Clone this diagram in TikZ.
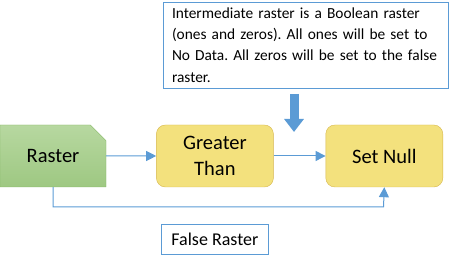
\documentclass[tikz,border=0pt]{standalone}
\usepackage{fontspec}
\setmainfont{Carlito}
\frenchspacing
\usetikzlibrary{arrows.meta,positioning,shapes.misc}
\definecolor{lineblue}{RGB}{91,155,213}
\definecolor{opfill}{RGB}{243,225,125}
\definecolor{opdraw}{RGB}{214,182,76}
\definecolor{rastertop}{RGB}{183,216,160}
\definecolor{rasterbot}{RGB}{158,200,130}
\definecolor{rasterdraw}{RGB}{128,180,96}
\tikzset{
  rasterbox/.style={chamfered rectangle, chamfered rectangle corners=north east, chamfered rectangle xsep=9pt, chamfered rectangle ysep=9pt, draw=rasterdraw, top color=rastertop, bottom color=rasterbot, minimum width=106pt, minimum height=62pt, inner sep=0pt, font=\fontsize{20.5}{26}\selectfont},
  opbox/.style={draw=opdraw, fill=opfill, rounded corners=9pt, align=center, minimum width=117pt, minimum height=62pt, inner sep=0pt, font=\fontsize{20.5}{26}\selectfont},
  notebox/.style={draw=lineblue, fill=white, align=left, text width=267pt, inner xsep=9pt, inner ysep=0pt, minimum height=86pt, font=\fontsize{15.4}{21.3}\selectfont},
  labelbox/.style={draw=lineblue, fill=white, minimum width=107pt, minimum height=30pt, inner sep=0pt, font=\fontsize{18}{22}\selectfont},
  flowarrow/.style={-{Triangle[length=10pt,width=10pt]}, line width=1pt, draw=lineblue},
  droparrow/.style={-{Triangle[length=13pt,width=19pt]}, line width=9pt, draw=lineblue},
}
\begin{document}
\begin{tikzpicture}[x=1pt, y=1pt]
    \useasboundingbox (0,0) rectangle (450,261);
    \node[rasterbox] (raster) at (53,105) {Raster};
    \node[opbox, right=50pt of raster] (greater) {Greater\\Than};
    \node[opbox, right=52pt of greater] (setnull) {Set Null};
    \node[labelbox, below=37pt of greater] (falseraster) {False Raster};
    \node[notebox] (note) at (305.5,216) {Intermediate raster is a Boolean raster\\(ones and zeros). All ones will be set to\\No Data. All zeros will be set to the false\\raster.};
    \coordinate (dropstart) at (294,167);
    \coordinate (dropend) at (294,129);
    \coordinate (loop) at (383.5,54);
    \draw[flowarrow] (raster) -- (greater);
    \draw[flowarrow] (greater) -- (setnull);
    \draw[flowarrow] (raster.south) |- (loop) -- (setnull.south);
    \draw[droparrow] (dropstart) -- (dropend);
\end{tikzpicture}
\end{document}
